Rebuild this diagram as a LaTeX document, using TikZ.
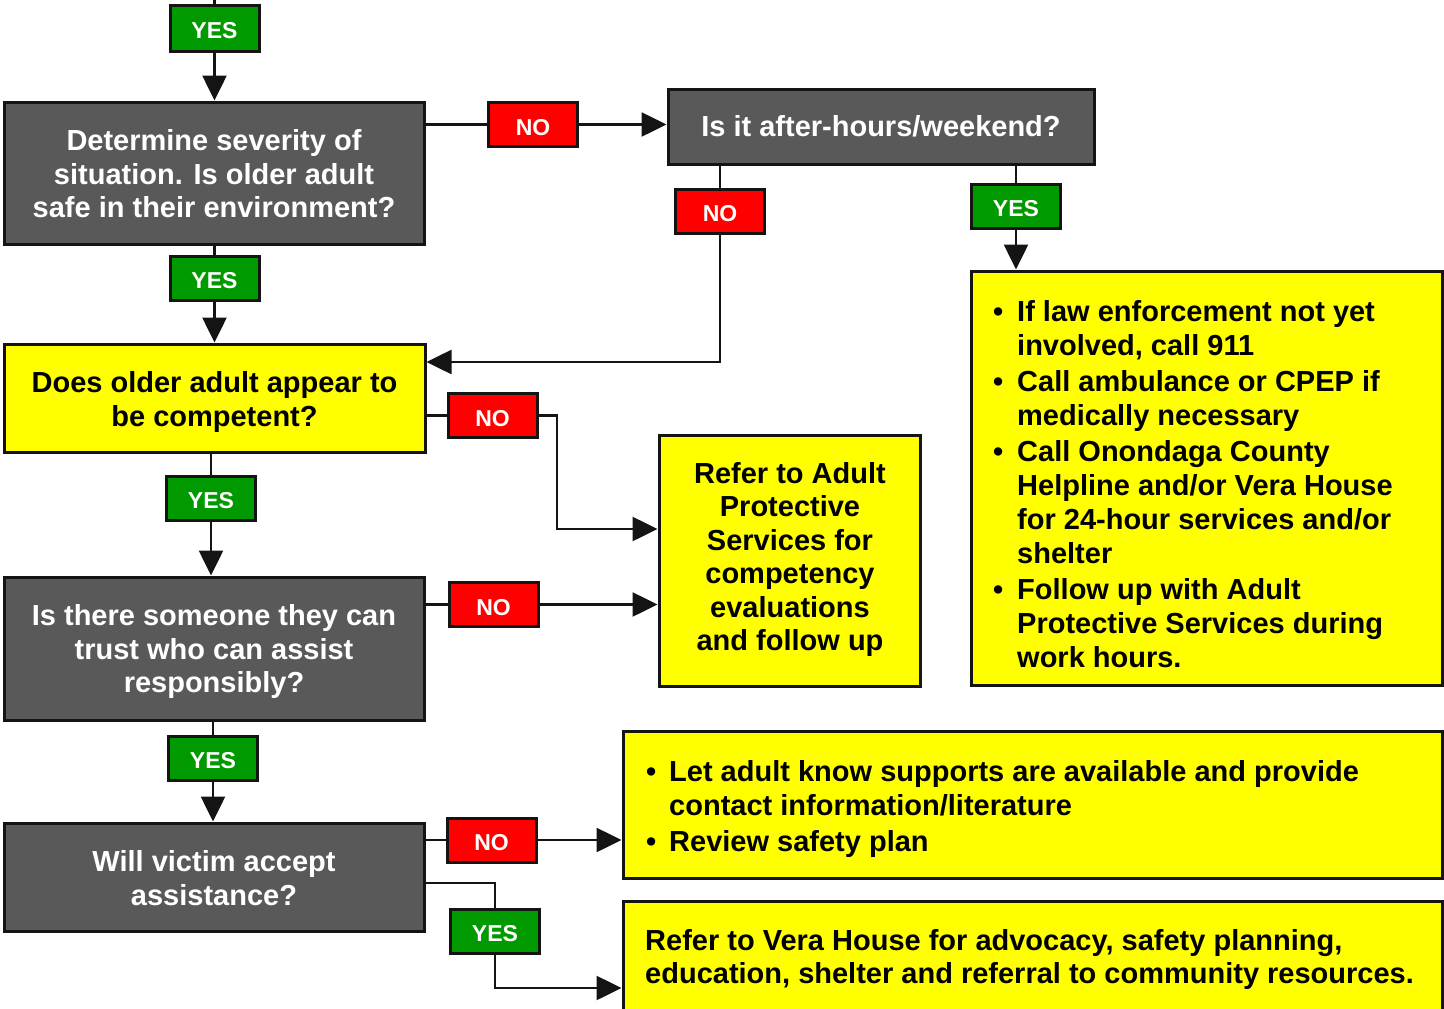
\documentclass[tikz,border=0pt]{standalone}
\usepackage{fontspec}
\setmainfont{Liberation Sans}
\usetikzlibrary{arrows.meta}
\definecolor{boxgray}{RGB}{89,89,89}
\definecolor{ygreen}{RGB}{0,153,0}
\definecolor{nred}{RGB}{255,0,0}
\definecolor{byellow}{RGB}{255,255,0}
\definecolor{edge}{RGB}{20,20,20}
\newcommand\lbl[1]{\raisebox{-2.5pt}[\height][0pt]{#1}}
\begin{document}
\begin{tikzpicture}[x=1pt,y=-1pt,
  base/.style={draw=edge,line width=3pt,inner sep=0pt,font=\bfseries\fontsize{29}{33.5}\selectfont,align=center},
  graybox/.style={base,fill=boxgray,text=white},
  yelbox/.style={base,fill=byellow,text=black},
  graytext/.style={inner sep=0pt,align=center,text=white,font=\bfseries\fontsize{29}{33.5}\selectfont},
  yeltext/.style={graytext,text=black},
  bultext/.style={inner sep=0pt,anchor=west,align=left,font=\bfseries\fontsize{29}{34}\selectfont},
  yeslab/.style={draw=edge,line width=3pt,fill=ygreen,text=white,font=\bfseries\fontsize{23}{26}\selectfont,minimum width=89pt,minimum height=44pt,inner sep=0pt},
  nolab/.style={yeslab,fill=nred},
  conn/.style={draw=edge,line width=2.6pt},
  arr/.style={conn,-{Triangle[length=25pt,width=24pt]}},
]
\useasboundingbox (0,0) rectangle (1444,1009);
\clip (0,0) rectangle (1444,1009);

% main boxes
\node[graybox,minimum width=420pt,minimum height=142pt] (b1) at (214,173) {};
\node[graytext] (t1) at (214,174) {Determine severity of\\situation. Is older adult\\safe in their environment?};
\node[graybox,minimum width=426pt,minimum height=75pt] (b2) at (881,126.5) {Is it after-hours/weekend?};
\node[yelbox,minimum width=421pt,minimum height=108pt] (b3) at (214.5,398) {};
\node[yeltext] (t3) at (214.5,402) {Does older adult appear to\\be competent?};
\node[yelbox,minimum width=471pt,minimum height=414pt] (b4) at (1206.5,478) {};
\node[yelbox,minimum width=261pt,minimum height=251pt] (b5) at (789.5,560.5) {};
\node[yeltext] (t5) at (790,559.5) {Refer to Adult\\Protective\\Services for\\competency\\evaluations\\and follow up};
\node[graybox,minimum width=420pt,minimum height=143pt] (b6) at (214,648.5) {};
\node[graytext] (t6) at (214,651.5) {Is there someone they can\\trust who can assist\\responsibly?};
\node[graybox,minimum width=420pt,minimum height=108pt] (b7) at (214,877) {};
\node[graytext] (t7) at (214,878) {Will victim accept\\assistance?};
\node[yelbox,minimum width=819pt,minimum height=147pt] (b8) at (1032.5,804.5) {};
\node[yelbox,minimum width=819pt,minimum height=160pt] (b9) at (1032.5,981) {};

% texts of bullet boxes
\node[bultext] (t4) at (993,484) {\makebox[24pt][l]{\textbullet}If law enforcement not yet\\
\hspace*{24pt}involved, call 911\\[2pt]
\makebox[24pt][l]{\textbullet}Call ambulance or CPEP if\\
\hspace*{24pt}medically necessary\\[2pt]
\makebox[24pt][l]{\textbullet}Call Onondaga County\\
\hspace*{24pt}Helpline and/or Vera House\\
\hspace*{24pt}for 24-hour services and/or\\
\hspace*{24pt}shelter\\[2pt]
\makebox[24pt][l]{\textbullet}Follow up with Adult\\
\hspace*{24pt}Protective Services during\\
\hspace*{24pt}work hours.};
\node[bultext] (t8) at (646,809) {\makebox[23pt][l]{\textbullet}Let adult know supports are available and provide\\
\hspace*{23pt}contact information/literature\\[2pt]
\makebox[23pt][l]{\textbullet}Review safety plan};
\node[bultext,font=\bfseries\fontsize{29}{33}\selectfont] (t9) at (645,959.5) {Refer to Vera House for advocacy, safety planning,\\education, shelter and referral to community resources.};

% labels
\node[yeslab,minimum height=46pt] (y0) at (214.5,28) {\lbl{YES}};
\node[nolab] (n1) at (533,124.5) {\lbl{NO}};
\node[nolab] (n2) at (720,211) {\lbl{NO}};
\node[yeslab] (y1) at (1016,206) {\lbl{YES}};
\node[yeslab] (y2) at (214.5,278) {\lbl{YES}};
\node[nolab] (n3) at (492.5,415.5) {\lbl{NO}};
\node[yeslab] (y3) at (211,498) {\lbl{YES}};
\node[nolab] (n4) at (493.5,604.5) {\lbl{NO}};
\node[yeslab] (y4) at (213,758) {\lbl{YES}};
\node[nolab] (n5) at (491.5,840) {\lbl{NO}};
\node[yeslab] (y5) at (495,931) {\lbl{YES}};

% helper coordinates
\coordinate (top) at (214.5,0);
\coordinate (c1) at (720,362);
\coordinate (c2) at (557,529);
\coordinate (c3) at (495,883);
\coordinate (c4) at (495,988);

% connectors
\draw[conn] (top) -- (y0.north);
\draw[arr] (y0.south) -- (y0.south |- b1.north);
\draw[conn] (b1.east |- n1) -- (n1.west);
\draw[arr] (n1.east) -- (b2.west |- n1);
\draw[conn] (b2.south -| n2) -- (n2.north);
\draw[arr] (n2.south) -- (c1) -- (b3.east |- c1);
\draw[conn] (b2.south -| y1) -- (y1.north);
\draw[arr] (y1.south) -- (y1.south |- b4.north);
\draw[conn] (b1.south -| y2) -- (y2.north);
\draw[arr] (y2.south) -- (y2.south |- b3.north);
\draw[conn] (b3.east |- n3) -- (n3.west);
\draw[arr] (n3.east) -| (c2) -- (b5.west |- c2);
\draw[conn] (b3.south -| y3) -- (y3.north);
\draw[arr] (y3.south) -- (y3.south |- b6.north);
\draw[conn] (b6.east |- n4) -- (n4.west);
\draw[arr] (n4.east) -- (b5.west |- n4);
\draw[conn] (b6.south -| y4) -- (y4.north);
\draw[arr] (y4.south) -- (y4.south |- b7.north);
\draw[conn] (b7.east |- n5) -- (n5.west);
\draw[arr] (n5.east) -- (b8.west |- n5);
\draw[conn] (b7.east |- c3) -| (y5.north);
\draw[arr] (y5.south) |- (b9.west |- c4);
\end{tikzpicture}
\end{document}
